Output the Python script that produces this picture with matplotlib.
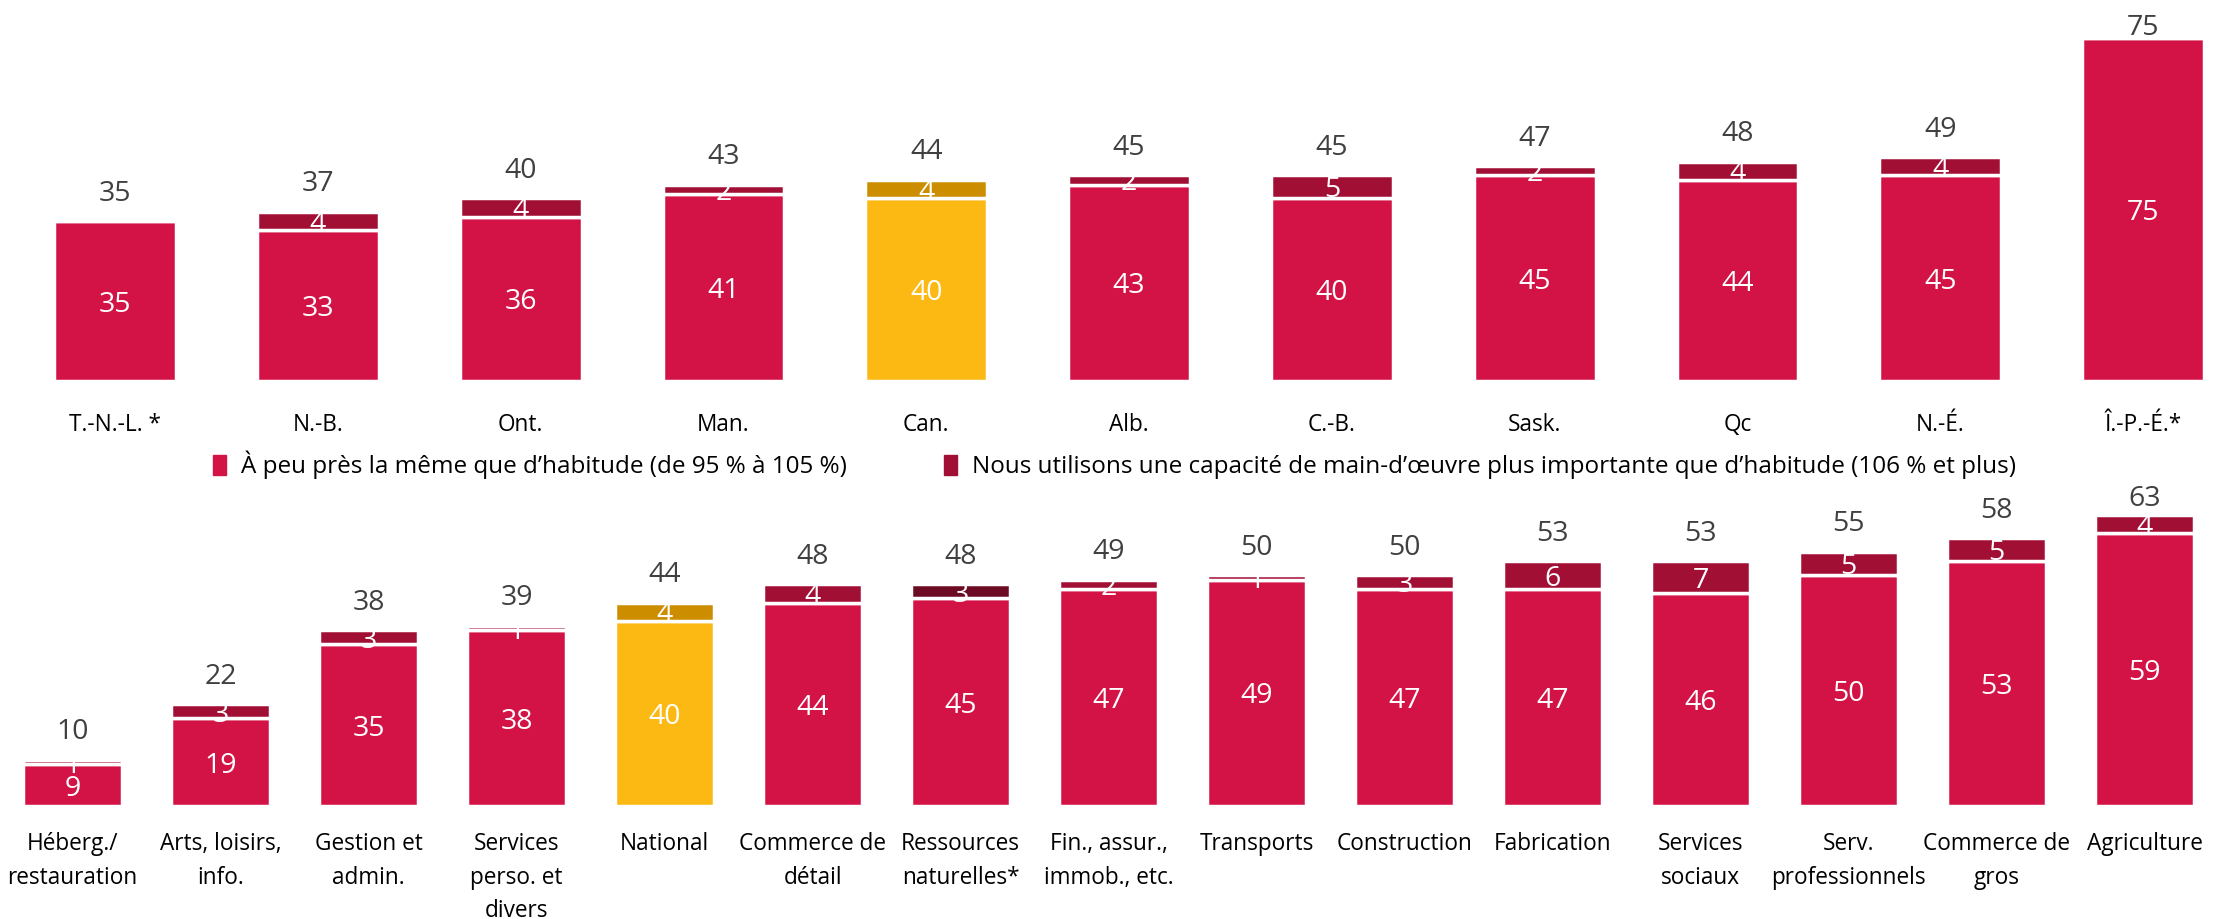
import matplotlib.pyplot as plt
from matplotlib.patches import Patch

plt.rcParams['font.family'] = ['Open Sans', 'DejaVu Sans']

# provinces
prov = ['T.-N.-L. *', 'N.-B.', 'Ont.', 'Man.', 'Can.', 'Alb.', 'C.-B.', 'Sask.', 'Qc', 'N.-É.', 'Î.-P.-É.*']
prov_same = [35, 33, 36, 41, 40, 43, 40, 45, 44, 45, 75]
prov_more = [0, 4, 4, 2, 4, 2, 5, 2, 4, 4, 0]
prov_total = [35, 37, 40, 43, 44, 45, 45, 47, 48, 49, 75]

# sectors
sect = ['Héberg./\nrestauration', 'Arts, loisirs,\ninfo.', 'Gestion et\nadmin.', 'Services\nperso. et\ndivers',
        'National', 'Commerce de\ndétail', 'Ressources\nnaturelles*', 'Fin., assur.,\nimmob., etc.',
        'Transports', 'Construction', 'Fabrication', 'Services\nsociaux', 'Serv.\nprofessionnels',
        'Commerce de\ngros', 'Agriculture']
sect_same = [9, 19, 35, 38, 40, 44, 45, 47, 49, 47, 47, 46, 50, 53, 59]
sect_more = [1, 3, 3, 1, 4, 4, 3, 2, 1, 3, 6, 7, 5, 5, 4]
sect_total = [10, 22, 38, 39, 44, 48, 48, 49, 50, 50, 53, 53, 55, 58, 63]

RED = '#D31245'
DARK = '#A20F35'
DARKER = '#6D0A24'
YEL = '#FDB913'
DYEL = '#CC8E00'
GREY = '#404040'

fig = plt.figure(figsize=(22.29, 9.19), dpi=100)


def draw(ax, cats, same, more, total, width, hl, darker, top_off, ymax, ycap, pad):
    x = list(range(len(cats)))
    c1 = [YEL if c == hl else RED for c in cats]
    c2 = [DYEL if c == hl else (DARKER if c in darker else DARK) for c in cats]
    ax.bar(x, same, width, color=c1, edgecolor='white', linewidth=2.5)
    ax.bar(x, more, width, bottom=same, color=c2, edgecolor='white', linewidth=2.5)
    for i in x:
        ax.text(i, same[i] / 2, str(same[i]), ha='center', va='center_baseline', color='white', fontsize=20.5)
        if more[i] > 0:
            ax.text(i, same[i] + more[i] / 2, str(more[i]), ha='center', va='center_baseline',
                    color='white', fontsize=20.5)
        # total above the bar, kept inside the panel
        ax.text(i, min(total[i] + top_off, ycap), str(total[i]), ha='center', va='center_baseline',
                color=GREY, fontsize=20.5)
    ax.set_ylim(0, ymax)
    ax.set_xticks(x)
    ax.set_xticklabels(cats, fontsize=16.3, color='black', linespacing=1.52)
    ax.tick_params(axis='x', length=0, pad=pad)
    ax.set_yticks([])
    for s in ax.spines.values():
        s.set_visible(False)


ax1 = fig.add_axes([0, 538 / 919, 1, 381 / 919])
draw(ax1, prov, prov_same, prov_more, prov_total, 0.6, 'Can.', [], 6.8, 83.4, 78.1, 23)
ax1.set_xlim(-0.568, 10.424)

ax2 = fig.add_axes([0, 113 / 919, 1, 323.4 / 919])
draw(ax2, sect, sect_same, sect_more, sect_total, 0.67, 'National', ['Ressources\nnaturelles*'],
     6.7, 70, 67.3, 19)
ax2.set_xlim(-0.49, 14.57)

handles = [Patch(color=RED), Patch(color=DARK)]
labels = ['À peu près la même que d’habitude (de 95 % à 105 %)',
          'Nous utilisons une capacité de main-d’œuvre plus importante que d’habitude (106 % et plus)']
fig.legend(handles, labels, loc='center', bbox_to_anchor=(0.5, 1 - 465 / 919), ncol=2, frameon=False,
           fontsize=17.5, handlelength=0.55, handleheight=0.9, handletextpad=0.6, columnspacing=4.0)

fig.savefig('out.png', dpi=100)
